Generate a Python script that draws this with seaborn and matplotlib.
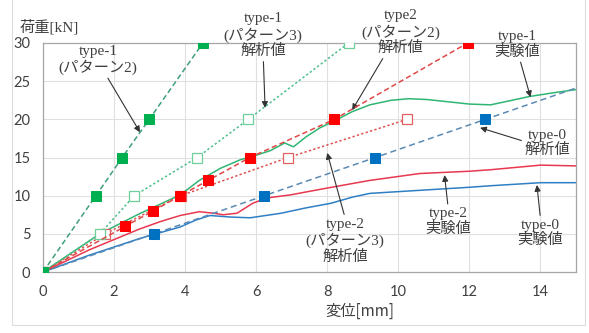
import numpy as np
import pandas as pd
import matplotlib
matplotlib.use("Agg")
import matplotlib.pyplot as plt
from matplotlib.patches import Rectangle
import seaborn as sns

# 解析値 (analysis) series
t1p2_x = [0, 1.49, 2.23, 2.99, 4.5]
t1p2_y = [0, 10, 15, 20, 30]

t1p3_x = [0, 1.6, 2.57, 4.34, 5.78, 8.6]
t1p3_y = [0, 5, 10, 15, 20, 30]

t2p2_x = [0, 2.32, 3.1, 3.86, 4.65, 5.82, 8.2, 11.95]
t2p2_y = [0, 6, 8, 10, 12, 15, 20, 30]

t2p3_x = [0, 1.75, 3.88, 6.9, 10.25]
t2p3_y = [0, 5, 10, 15, 20]

t0_ana_x = [0, 3.13, 6.23, 9.35, 12.45, 15.0]
t0_ana_y = [0, 5, 10, 15, 20, 24.1]

# 実験値 (experiment) series
t1_exp_x = [0, 1.6, 2.7, 3.86, 4.4, 5.0, 5.55, 6.0, 6.4, 6.8, 7.05, 7.4, 7.8, 8.2,
            8.7, 9.2, 9.8, 10.3, 10.8, 11.2, 12.0, 12.6, 13.0, 13.7, 14.4, 15.0]
t1_exp_y = [0, 5, 7.6, 10.1, 12.0, 13.6, 14.7, 15.3, 15.9, 16.9, 16.4, 17.7, 18.9, 19.8,
            21.0, 21.9, 22.5, 22.7, 22.6, 22.4, 22.0, 21.9, 22.3, 23.0, 23.5, 23.9]

t2_exp_x = [0, 1.3, 2.7, 3.3, 3.86, 4.4, 4.8, 5.07, 5.46, 5.9, 6.3, 6.96, 8.0,
            9.2, 10.6, 12.0, 12.6, 14.0, 15.0]
t2_exp_y = [0, 2.9, 5.6, 6.6, 7.4, 7.9, 7.7, 7.5, 7.7, 9.0, 9.7, 10.1, 11.0,
            12.0, 12.9, 13.2, 13.4, 14.0, 13.9]

t0_exp_x = [0, 1.3, 2.73, 3.86, 4.3, 4.7, 5.27, 5.83, 6.7, 7.4, 8.1, 8.7, 9.2, 10.6,
            12.0, 12.6, 14.0, 15.0]
t0_exp_y = [0, 2.2, 4.4, 5.9, 6.8, 7.4, 7.2, 7.1, 7.7, 8.4, 9.0, 9.8, 10.3, 10.7,
            11.1, 11.3, 11.7, 11.7]

sns.set_style("white")
plt.rcParams["font.family"] = ["Liberation Serif", "Noto Sans CJK JP"]

fig = plt.figure(figsize=(5.89, 3.33), dpi=100)
ax = fig.add_axes([43 / 589, 1 - 272 / 333, (576 - 43) / 589, (272 - 43) / 333])

fig.patches.append(Rectangle((12 / 589, 1 - 325 / 333), (585 - 12) / 589, 0.99,
                             transform=fig.transFigure, fill=False,
                             edgecolor="#dcdcdc", lw=0.8))

# experimental curves
sns.lineplot(x=t0_exp_x, y=t0_exp_y, sort=False, estimator=None, ax=ax,
             color="#2f7fc6", lw=1.1, zorder=2)
sns.lineplot(x=t2_exp_x, y=t2_exp_y, sort=False, estimator=None, ax=ax,
             color="#e8384f", lw=1.1, zorder=2)
sns.lineplot(x=t1_exp_x, y=t1_exp_y, sort=False, estimator=None, ax=ax,
             color="#2fb673", lw=1.1, zorder=2)

# analysis lines
sns.lineplot(x=t0_ana_x, y=t0_ana_y, sort=False, estimator=None, ax=ax,
             color="#5b8ab5", lw=1.1, linestyle=(0, (4, 2.5)), marker="s", ms=6.5,
             mfc="#0070c0", mec="#0070c0", markevery=[0, 1, 2, 3, 4], zorder=3)
sns.lineplot(x=t2p3_x, y=t2p3_y, sort=False, estimator=None, ax=ax,
             color="#e05050", lw=1.1, linestyle=(0, (1.5, 1.5)), marker="s", ms=6.5,
             mfc="white", mec="#e06060", mew=0.9, zorder=3)
sns.lineplot(x=t2p2_x, y=t2p2_y, sort=False, estimator=None, ax=ax,
             color="#e04848", lw=1.1, linestyle=(0, (3.5, 2)), marker="s", ms=7,
             mfc="#ff0000", mec="#ff0000", zorder=4)
sns.lineplot(x=t1p3_x, y=t1p3_y, sort=False, estimator=None, ax=ax,
             color="#4cbf8a", lw=1.1, linestyle=(0, (1.5, 1.5)), marker="s", ms=6.5,
             mfc="white", mec="#6fcf9a", mew=0.9, zorder=3)
sns.lineplot(x=t1p2_x, y=t1p2_y, sort=False, estimator=None, ax=ax,
             color="#3f9f7c", lw=1.1, linestyle=(0, (3.5, 2)), marker="s", ms=6.5,
             mfc="#00b050", mec="#00b050", zorder=4)

ax.set_xlim(0, 15)
ax.set_ylim(0, 30)
ax.set_xticks(range(0, 16, 2))
ax.set_yticks(range(0, 31, 5))
ax.grid(True, color="#e0e0e0", lw=0.8)
ax.set_axisbelow(True)
for s in ax.spines.values():
    s.set_color("#a6a6a6")
    s.set_linewidth(0.9)
ax.tick_params(length=0, labelsize=10.5, labelcolor="#404040", pad=9)
for lab in ax.get_xticklabels() + ax.get_yticklabels():
    lab.set_family("Lato")
ax.set_xlabel("")
ax.set_ylabel("")

fig.text(20 / 589, 1 - 27 / 333, "荷重[kN]", fontsize=11, color="#404040",
         va="center", ha="left")
fig.text(360 / 589, 1 - 311 / 333, "変位[mm]", fontsize=11, color="#404040",
         va="center", ha="center", family=["Noto Sans CJK JP"])

txt = dict(fontsize=11, color="#404040", ha="center", va="center",
           linespacing=1.15, annotation_clip=False)
arr = dict(arrowstyle="-|>", color="#333333", lw=0.8, mutation_scale=9,
           shrinkA=0, shrinkB=0)

ax.annotate("type-1\n(パターン2)", xy=(2.73, 18.3), xytext=(1.55, 27.8),
            arrowprops=dict(arr, relpos=(0.6, 0.0)), **txt)
ax.annotate("type-1\n(パターン3)\n解析値", xy=(6.25, 21.5), xytext=(6.2, 31.0),
            arrowprops=dict(arr, relpos=(0.5, 0.0)), **txt)
ax.annotate("type2\n(パターン2)\n解析値", xy=(8.7, 21.2), xytext=(10.06, 31.4),
            arrowprops=dict(arr, relpos=(0.3, 0.0)), **txt)
ax.annotate("type-1\n実験値", xy=(13.72, 22.9), xytext=(13.35, 29.8),
            arrowprops=dict(arr, relpos=(0.55, 0.0)), **txt)
ax.annotate("type-0\n解析値", xy=(12.3, 18.9), xytext=(14.2, 16.9),
            arrowprops=dict(arr, relpos=(0.0, 0.55)), **txt)
ax.annotate("type-2\n(パターン3)\n解析値", xy=(8.0, 15.6), xytext=(8.5, 4.1),
            arrowprops=dict(arr, relpos=(0.5, 1.0)), **txt)
ax.annotate("type-2\n実験値", xy=(11.3, 12.7), xytext=(11.4, 6.6),
            arrowprops=dict(arr, relpos=(0.5, 1.0)), **txt)
ax.annotate("type-0\n実験値", xy=(13.9, 11.4), xytext=(14.0, 5.1),
            arrowprops=dict(arr, relpos=(0.5, 1.0)), **txt)

fig.savefig("out.png", dpi=100)
